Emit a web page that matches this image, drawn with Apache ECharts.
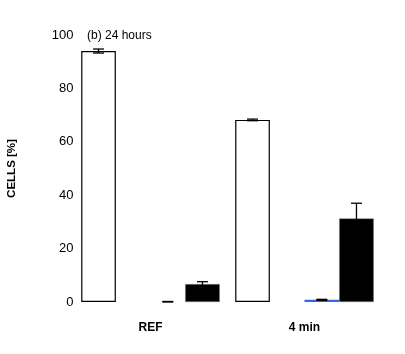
<!DOCTYPE html>
<html>
<head>
<meta charset="utf-8">
<script src="https://cdn.jsdelivr.net/npm/echarts@6/dist/echarts.min.js"></script>
<style>
  html, body { margin: 0; padding: 0; background: #fff; }
  #chart { width: 405px; height: 354px; }
</style>
</head>
<body>
<div id="chart"></div>
<script>
var categories = ['REF', '4 min'];
var yTicks = [0, 20, 40, 60, 80, 100];

// mean values per series (white, empty, blue, black)
var whiteVals = [94.0, 68.2];
var emptyVals = ['-', '-'];
var blueVals = [0, 0.8];
var blackVals = [6.7, 31.3];

// error bar half-lengths
var whiteErr = [0.75, 0.3];
var blueErr = [0.2, 0.2];
var blackErr = [0.9, 5.7];

var FONT = '"Liberation Sans", Arial, sans-serif';

function errData(vals, errs, slot) {
    var out = [];
    for (var i = 0; i < vals.length; i++) {
        out.push([i, slot, vals[i], errs[i]]);
    }
    return out;
}

var errorData = []
    .concat(errData(whiteVals, whiteErr, 0))
    .concat(errData(blueVals, blueErr, 2))
    .concat(errData(blackVals, blackErr, 3));

var gapRatio = 0.1;
var nSlots = 4;

function renderErr(params, api) {
    var cat = api.value(0);
    var slot = api.value(1);
    var v = api.value(2);
    var e = api.value(3);
    var catW = api.size([1, 0])[0];
    var bw = catW * (1 - gapRatio) / nSlots;
    var base = api.coord([cat, v]);
    var x = base[0] - catW * (1 - gapRatio) / 2 + bw * (slot + 0.5);
    var hi = api.coord([cat, v + e])[1];
    var lo = api.coord([cat, Math.max(0, v - e)])[1];
    var half = 5.5;
    var style = { stroke: '#000', lineWidth: 1.3 };
    return {
        type: 'group',
        children: [
            { type: 'line', shape: { x1: x, y1: hi, x2: x, y2: lo }, style: style },
            { type: 'line', shape: { x1: x - half, y1: hi, x2: x + half, y2: hi }, style: style },
            { type: 'line', shape: { x1: x - half, y1: lo, x2: x + half, y2: lo }, style: style }
        ]
    };
}

var chart = echarts.init(document.getElementById('chart'));

var option = {
    animation: false,
    grid: { left: 73.5, right: 23.5, top: 35, bottom: 52, containLabel: false, outerBoundsMode: 'none' },
    graphic: [
        {
            type: 'text', left: 87, top: 30,
            style: { text: '(b) 24 hours', fontFamily: FONT, fontSize: 12, fill: '#000' }
        }
    ],
    xAxis: {
        type: 'category',
        data: categories,
        axisLine: { show: false },
        axisTick: { show: false },
        axisLabel: {
            margin: 20,
            fontFamily: FONT,
            fontWeight: 'bold',
            fontSize: 12,
            color: '#000'
        }
    },
    yAxis: {
        type: 'value',
        min: 0,
        max: 100,
        interval: 20,
        name: 'CELLS [%]',
        nameLocation: 'middle',
        nameGap: 56,
        nameTextStyle: {
            fontFamily: FONT,
            fontWeight: 'bold',
            fontSize: 11.5,
            color: '#000'
        },
        axisLine: { show: false },
        axisTick: { show: false },
        splitLine: { show: false },
        axisLabel: {
            margin: 0,
            fontFamily: FONT,
            fontSize: 13,
            color: '#000',
            formatter: function (v) { return yTicks.indexOf(v) >= 0 ? String(v) : ''; }
        }
    },
    series: [
        {
            type: 'bar', data: whiteVals, barGap: '0%', barCategoryGap: '10%',
            itemStyle: { color: '#fff', borderColor: '#000', borderWidth: 1.2 }
        },
        {
            type: 'bar', data: emptyVals,
            itemStyle: { color: '#fff' }
        },
        {
            type: 'bar', data: blueVals,
            itemStyle: { color: '#3366ee' }
        },
        {
            type: 'bar', data: blackVals,
            itemStyle: { color: '#000', borderColor: '#888', borderWidth: 0.5 }
        },
        {
            type: 'custom',
            renderItem: renderErr,
            data: errorData,
            encode: { x: 0, y: 2 },
            z: 10
        }
    ]
};

chart.setOption(option);
</script>
</body>
</html>
